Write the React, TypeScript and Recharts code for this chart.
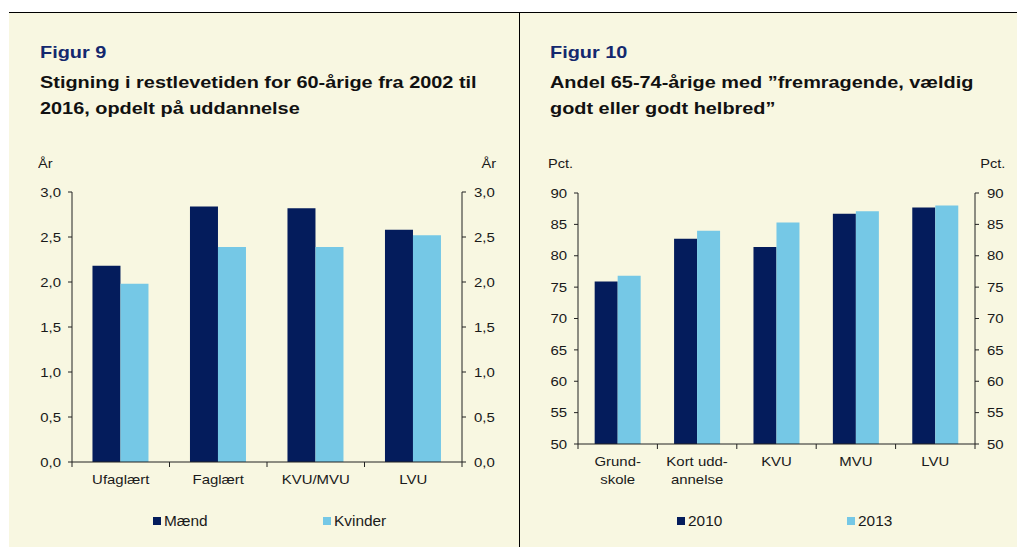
import React from 'react';
import { BarChart, Bar, XAxis, YAxis, Legend } from 'recharts';

// Figur 9: stigning i restlevetid (år)
const fig9Categories = ['Ufaglært', 'Faglært', 'KVU/MVU', 'LVU'];
const fig9Maend = [2.18, 2.84, 2.82, 2.58];
const fig9Kvinder = [1.98, 2.39, 2.39, 2.52];
const fig9Ticks = [0, 0.5, 1, 1.5, 2, 2.5, 3];

// Figur 10: andel med godt helbred (pct.)
const fig10Categories = ['Grund-\nskole', 'Kort udd-\nannelse', 'KVU', 'MVU', 'LVU'];
const fig10Y2010 = [75.9, 82.7, 81.4, 86.7, 87.7];
const fig10Y2013 = [76.8, 84.0, 85.3, 87.1, 88.0];
const fig10Ticks = [50, 55, 60, 65, 70, 75, 80, 85, 90];

const DARK = '#041c5c';
const LIGHT = '#75c8e6';
const CREAM = '#f8f7e1';
const FONT = 'Arial, "Liberation Sans", sans-serif';
const TEXT = '#1a1a1a';
const STRETCH = 1.15; // teksten i originalen er lidt bredere end Arial

const fig9Data = fig9Categories.map((name, i) => ({ name, maend: fig9Maend[i], kvinder: fig9Kvinder[i] }));
const fig10Data = fig10Categories.map((name, i) => ({ name, y2010: fig10Y2010[i], y2013: fig10Y2013[i] }));

const comma1 = (v: number) => v.toFixed(1).replace('.', ',');

// x-akse tick: label + små streger mellem kategorierne
const makeXTick = (band: number, count: number) => (props: any) => {
    const { x, y, payload, index } = props;
    const lines = String(payload.value).split('\n');
    return (
        <g>
            <line x1={x - band / 2} y1={y} x2={x - band / 2} y2={y + 5} stroke="#222" />
            {index === count - 1 && <line x1={x + band / 2} y1={y} x2={x + band / 2} y2={y + 5} stroke="#222" />}
            <g transform={`translate(${x},${y}) scale(${STRETCH},1)`}>
                <text x={0} y={22} textAnchor="middle" fill={TEXT} fontSize={13} fontFamily={FONT}>
                    {lines.map((l, i) => (
                        <tspan key={i} x={0} dy={i === 0 ? 0 : 18}>{l}</tspan>
                    ))}
                </text>
            </g>
        </g>
    );
};

const makeYTick = (fmt?: (v: number) => string) => (props: any) => {
    const { x, y, payload, textAnchor } = props;
    return (
        <g transform={`translate(${x},${y}) scale(${STRETCH},1)`}>
            <text x={0} y={0} dy="0.355em" textAnchor={textAnchor} fill={TEXT} fontSize={13} fontFamily={FONT}>
                {fmt ? fmt(payload.value) : payload.value}
            </text>
        </g>
    );
};

const makeLegend = (order: string[], positions: number[]) => (props: any) => {
    const payload = [...(props.payload || [])].sort((a: any, b: any) => order.indexOf(a.dataKey) - order.indexOf(b.dataKey));
    return (
        <div style={{ position: 'relative', height: 45 }}>
            {payload.map((p: any, i: number) => (
                <div key={i} style={{ position: 'absolute', left: positions[i], top: 21, display: 'flex', alignItems: 'center', fontFamily: FONT, fontSize: 14, color: TEXT, lineHeight: '16px' }}>
                    <span style={{ display: 'inline-block', width: 8, height: 8, background: p.color, marginRight: 3 }} />
                    <span style={{ display: 'inline-block', transform: 'scaleX(1.1)', transformOrigin: 'left' }}>{p.value}</span>
                </div>
            ))}
        </div>
    );
};

const axisStroke = '#222';

const stretchStyle: React.CSSProperties = { display: 'inline-block', transform: 'scaleX(1.17)', transformOrigin: 'left', whiteSpace: 'nowrap' };

const Titles: React.FC<{ left: number; fig: string; lines: string[]; unit: string; unitRight: number }> = ({ left, fig, lines, unit, unitRight }) => (
    <>
        <div style={{ position: 'absolute', left, top: 43, fontFamily: FONT, fontWeight: 'bold', fontSize: 17, color: '#14286e', lineHeight: '20px' }}>
            <span style={stretchStyle}>{fig}</span>
        </div>
        <div style={{ position: 'absolute', left, top: 70, fontFamily: FONT, fontWeight: 'bold', fontSize: 17, color: '#111', lineHeight: '26px' }}>
            {lines.map((l, i) => <div key={i}><span style={stretchStyle}>{l}</span></div>)}
        </div>
        <div style={{ position: 'absolute', left: left - 2, top: 156, fontFamily: FONT, fontSize: 13, color: TEXT }}>
            <span style={{ ...stretchStyle, transform: 'scaleX(1.12)' }}>{unit}</span>
        </div>
        <div style={{ position: 'absolute', right: unitRight, top: 156, fontFamily: FONT, fontSize: 13, color: TEXT }}>
            <span style={{ ...stretchStyle, transform: 'scaleX(1.12)', transformOrigin: 'right' }}>{unit}</span>
        </div>
    </>
);

export default function App() {
    return (
        <div style={{ position: 'absolute', left: 0, top: 0, width: 1017, height: 547, background: '#fff', overflow: 'hidden' }}>
            <div style={{ position: 'absolute', left: 9, top: 12, width: 1008, height: 535, background: CREAM, borderTop: '1.5px solid #000' }} />
            <div style={{ position: 'absolute', left: 518.5, top: 12, width: 1.5, height: 535, background: '#000' }} />

            <Titles left={40} fig="Figur 9" lines={['Stigning i restlevetiden for 60-årige fra 2002 til', '2016, opdelt på uddannelse']} unit="År" unitRight={1017 - 496} />
            <Titles left={550} fig="Figur 10" lines={['Andel 65-74-årige med ”fremragende, vældig', 'godt eller godt helbred”']} unit="Pct." unitRight={12} />

            <div style={{ position: 'absolute', left: 0, top: 0 }}>
                <BarChart width={519} height={547} data={fig9Data} margin={{ top: 192, right: 0, bottom: 10, left: 0 }} barCategoryGap="21%" barGap={0}>
                    <XAxis dataKey="name" tickLine={false} tickSize={0} tickMargin={0} height={30} stroke={axisStroke} interval={0}
                        tick={makeXTick(390 / fig9Categories.length, fig9Categories.length)} />
                    <YAxis yAxisId="left" domain={[0, 3]} ticks={fig9Ticks} width={72} tickSize={4} tickMargin={7} stroke={axisStroke}
                        tick={makeYTick(comma1)} allowDataOverflow />
                    <YAxis yAxisId="right" orientation="right" domain={[0, 3]} ticks={fig9Ticks} width={57} tickSize={4} tickMargin={8} stroke={axisStroke}
                        tick={makeYTick(comma1)} allowDataOverflow />
                    <Bar yAxisId="left" dataKey="maend" name="Mænd" fill={DARK} isAnimationActive={false} />
                    <Bar yAxisId="left" dataKey="kvinder" name="Kvinder" fill={LIGHT} isAnimationActive={false} />
                    <Legend verticalAlign="bottom" height={45} content={makeLegend(['maend', 'kvinder'], [153, 323])} />
                </BarChart>
            </div>

            <div style={{ position: 'absolute', left: 519, top: 0 }}>
                <BarChart width={498} height={547} data={fig10Data} margin={{ top: 193, right: 0, bottom: 10, left: 0 }} barCategoryGap="21%" barGap={0}>
                    <XAxis dataKey="name" tickLine={false} tickSize={0} tickMargin={0} height={48} stroke={axisStroke} interval={0}
                        tick={makeXTick(397 / fig10Categories.length, fig10Categories.length)} />
                    <YAxis yAxisId="left" domain={[50, 90]} ticks={fig10Ticks} width={59} tickSize={4} tickMargin={7} stroke={axisStroke}
                        tick={makeYTick()} allowDataOverflow />
                    <YAxis yAxisId="right" orientation="right" domain={[50, 90]} ticks={fig10Ticks} width={42} tickSize={4} tickMargin={8} stroke={axisStroke}
                        tick={makeYTick()} allowDataOverflow />
                    <Bar yAxisId="left" dataKey="y2010" name="2010" fill={DARK} isAnimationActive={false} />
                    <Bar yAxisId="left" dataKey="y2013" name="2013" fill={LIGHT} isAnimationActive={false} />
                    <Legend verticalAlign="bottom" height={45} content={makeLegend(['y2010', 'y2013'], [158, 328])} />
                </BarChart>
            </div>
        </div>
    );
}
